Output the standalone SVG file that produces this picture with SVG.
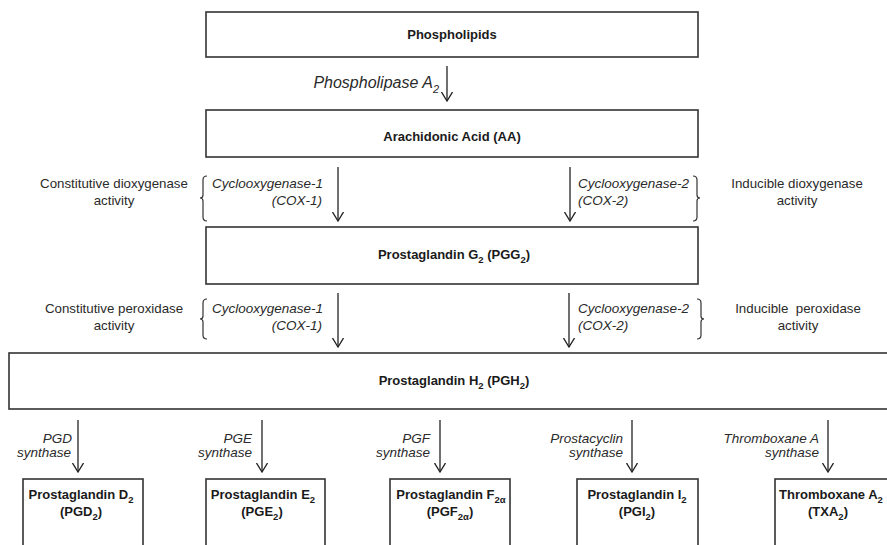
<svg xmlns="http://www.w3.org/2000/svg" width="887" height="545" viewBox="0 0 887 545">
  <style>
    .box { fill: #ffffff; stroke: #333333; stroke-width: 1.6; }
    .title { font-family: "Liberation Sans", Arial, sans-serif; font-size: 13px; font-weight: bold; fill: #1a1a1a; text-anchor: middle; }
    .enz { font-family: "Liberation Sans", Arial, sans-serif; font-size: 13.5px; font-style: italic; fill: #2a2a2a; }
    .act { font-family: "Liberation Sans", Arial, sans-serif; font-size: 13.3px; fill: #2a2a2a; text-anchor: middle; white-space: pre; }
    .sub { font-size: 9.5px; }
    .flow { stroke: #222222; stroke-width: 1.3; fill: none; }
    .brace { stroke: #333333; stroke-width: 1.2; fill: none; }
  </style>
  <defs>
    <marker id="head" viewBox="0 0 10 12" refX="9" refY="6" markerWidth="10" markerHeight="12" markerUnits="userSpaceOnUse" orient="auto">
      <path d="M0,0.5 L9,6 L0,11.5" fill="none" stroke="#222222" stroke-width="1.3"/>
    </marker>
  </defs>

  <rect width="887" height="545" fill="#ffffff"/>

  <!-- substrate chain -->
  <g id="phospholipids">
    <rect class="box" x="206" y="12" width="492" height="45"/>
    <text class="title" x="452" y="39">Phospholipids</text>
  </g>
  <g id="arachidonic-acid">
    <rect class="box" x="206" y="110" width="492" height="47"/>
    <text class="title" x="452" y="141">Arachidonic Acid (AA)</text>
  </g>
  <g id="pgg2">
    <rect class="box" x="206" y="227" width="492" height="57"/>
    <text class="title" x="454" y="259">Prostaglandin G<tspan class="sub" dy="4">2</tspan><tspan dy="-4"> (PGG</tspan><tspan class="sub" dy="4">2</tspan><tspan dy="-4">)</tspan></text>
  </g>
  <g id="pgh2">
    <rect class="box" x="9" y="353" width="900" height="56"/>
    <text class="title" x="454" y="385">Prostaglandin H<tspan class="sub" dy="4">2</tspan><tspan dy="-4"> (PGH</tspan><tspan class="sub" dy="4">2</tspan><tspan dy="-4">)</tspan></text>
  </g>

  <!-- terminal prostanoids -->
  <g id="pgd2">
    <rect class="box" x="23" y="479" width="120" height="80"/>
    <text class="title" x="81" y="499">Prostaglandin D<tspan class="sub" dy="4">2</tspan></text>
    <text class="title" x="81" y="516">(PGD<tspan class="sub" dy="4">2</tspan><tspan dy="-4">)</tspan></text>
  </g>
  <g id="pge2">
    <rect class="box" x="206" y="479" width="119" height="80"/>
    <text class="title" x="263" y="499">Prostaglandin E<tspan class="sub" dy="4">2</tspan></text>
    <text class="title" x="262" y="516">(PGE<tspan class="sub" dy="4">2</tspan><tspan dy="-4">)</tspan></text>
  </g>
  <g id="pgf2a">
    <rect class="box" x="390" y="479" width="120" height="80"/>
    <text class="title" x="451" y="499">Prostaglandin F<tspan class="sub" dy="4">2α</tspan></text>
    <text class="title" x="450" y="516">(PGF<tspan class="sub" dy="4">2α</tspan><tspan dy="-4">)</tspan></text>
  </g>
  <g id="pgi2">
    <rect class="box" x="577" y="479" width="121" height="80"/>
    <text class="title" x="637" y="499">Prostaglandin I<tspan class="sub" dy="4">2</tspan></text>
    <text class="title" x="637" y="516">(PGI<tspan class="sub" dy="4">2</tspan><tspan dy="-4">)</tspan></text>
  </g>
  <g id="txa2">
    <rect class="box" x="775" y="479" width="130" height="80"/>
    <text class="title" x="831" y="499">Thromboxane A<tspan class="sub" dy="4">2</tspan></text>
    <text class="title" x="828" y="516">(TXA<tspan class="sub" dy="4">2</tspan><tspan dy="-4">)</tspan></text>
  </g>

  <!-- reaction arrows -->
  <g id="connectors">
    <line class="flow" x1="447" y1="66" x2="447" y2="101" marker-end="url(#head)"/>
    <line class="flow" x1="338" y1="167" x2="338" y2="221" marker-end="url(#head)"/>
    <line class="flow" x1="570" y1="167" x2="570" y2="221" marker-end="url(#head)"/>
    <line class="flow" x1="338" y1="293" x2="338" y2="347" marker-end="url(#head)"/>
    <line class="flow" x1="569" y1="293" x2="569" y2="347" marker-end="url(#head)"/>
    <line class="flow" x1="78" y1="420" x2="78" y2="472" marker-end="url(#head)"/>
    <line class="flow" x1="262" y1="420" x2="262" y2="472" marker-end="url(#head)"/>
    <line class="flow" x1="440" y1="420" x2="440" y2="472" marker-end="url(#head)"/>
    <line class="flow" x1="632" y1="420" x2="632" y2="472" marker-end="url(#head)"/>
    <line class="flow" x1="828" y1="420" x2="828" y2="472" marker-end="url(#head)"/>
  </g>

  <!-- braces grouping isoform with activity -->
  <g id="braces">
    <path class="brace" d="M207,176 Q203,176 203,180 L203,195 Q203,198 200,198 Q203,198 203,201 L203,217 Q203,221 207,221"/>
    <path class="brace" d="M693,176 Q697,176 697,180 L697,195 Q697,198 700,198 Q697,198 697,201 L697,217 Q697,221 693,221"/>
    <path class="brace" d="M207,299 Q203,299 203,303 L203,316 Q203,319 200,319 Q203,319 203,322 L203,335 Q203,339 207,339"/>
    <path class="brace" d="M697,299 Q701,299 701,303 L701,316 Q701,319 704,319 Q701,319 701,322 L701,335 Q701,339 697,339"/>
  </g>

  <!-- enzyme labels -->
  <g id="enzyme-labels">
    <text class="enz" x="439" y="88" style="font-size:16px" text-anchor="end">Phospholipase A<tspan style="font-size:11px" dy="5">2</tspan></text>

    <text class="enz" x="212" y="188">Cyclooxygenase-1</text>
    <text class="enz" x="322" y="205" text-anchor="end">(COX-1)</text>
    <text class="enz" x="578" y="188">Cyclooxygenase-2</text>
    <text class="enz" x="578" y="205">(COX-2)</text>

    <text class="enz" x="212" y="313">Cyclooxygenase-1</text>
    <text class="enz" x="322" y="330" text-anchor="end">(COX-1)</text>
    <text class="enz" x="578" y="313">Cyclooxygenase-2</text>
    <text class="enz" x="578" y="330">(COX-2)</text>

    <text class="enz" x="72" y="443" text-anchor="end">PGD</text>
    <text class="enz" x="71" y="457" text-anchor="end">synthase</text>
    <text class="enz" x="252" y="443" text-anchor="end">PGE</text>
    <text class="enz" x="252" y="457" text-anchor="end">synthase</text>
    <text class="enz" x="430" y="443" text-anchor="end">PGF</text>
    <text class="enz" x="430" y="457" text-anchor="end">synthase</text>
    <text class="enz" x="623" y="443" text-anchor="end">Prostacyclin</text>
    <text class="enz" x="623" y="457" text-anchor="end">synthase</text>
    <text class="enz" x="819" y="443" text-anchor="end">Thromboxane A</text>
    <text class="enz" x="819" y="457" text-anchor="end">synthase</text>
  </g>

  <!-- activity descriptions -->
  <g id="activity-labels">
    <text class="act" x="114" y="188">Constitutive dioxygenase</text>
    <text class="act" x="114" y="205">activity</text>
    <text class="act" x="797" y="188">Inducible dioxygenase</text>
    <text class="act" x="797" y="205">activity</text>
    <text class="act" x="114" y="313">Constitutive peroxidase</text>
    <text class="act" x="114" y="330">activity</text>
    <text class="act" x="798" y="313">Inducible  peroxidase</text>
    <text class="act" x="798" y="330">activity</text>
  </g>
</svg>
